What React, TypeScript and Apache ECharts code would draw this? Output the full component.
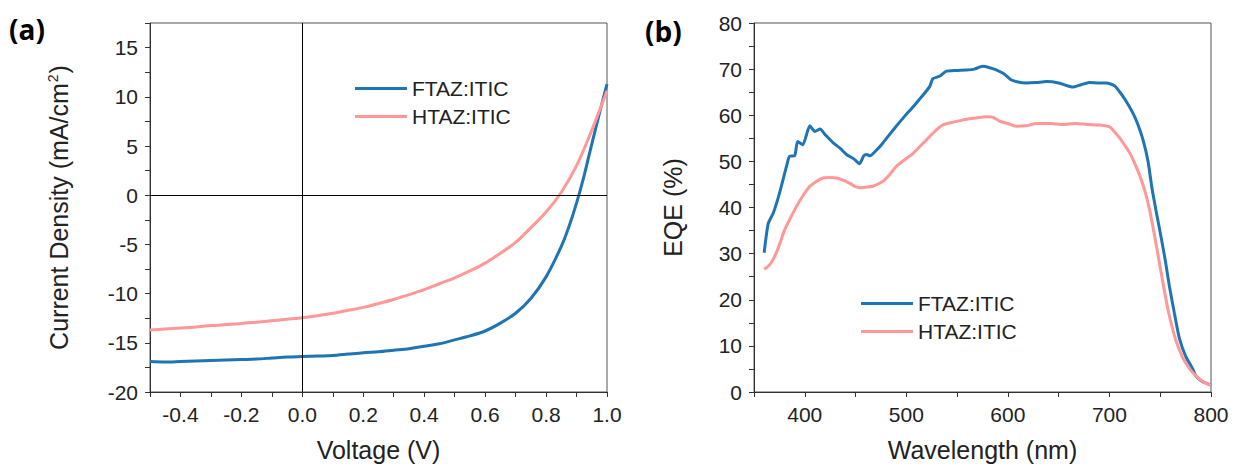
import React, { useEffect, useRef } from "react";
import * as echarts from "echarts";

// Panel (a): J-V curves
const jvVoltage = [-0.5, -0.45, -0.4, -0.35, -0.3, -0.25, -0.2, -0.15, -0.1, -0.05, 0, 0.05, 0.1, 0.15, 0.2, 0.25, 0.3, 0.35, 0.4, 0.45, 0.5, 0.55, 0.6, 0.65, 0.7, 0.75, 0.8, 0.85, 0.875, 0.9, 0.925, 0.95, 0.975, 1.0];
const jvFTAZ = [-16.9, -16.95, -16.9, -16.85, -16.8, -16.75, -16.7, -16.65, -16.55, -16.45, -16.4, -16.35, -16.3, -16.15, -16.0, -15.9, -15.75, -15.6, -15.35, -15.1, -14.7, -14.3, -13.8, -13.0, -12.0, -10.5, -8.3, -5.2, -3.2, -0.8, 2.0, 5.2, 8.3, 11.3];
const jvVoltageH = [-0.5, -0.45, -0.4, -0.35, -0.3, -0.25, -0.2, -0.15, -0.1, -0.05, 0, 0.05, 0.1, 0.15, 0.2, 0.25, 0.3, 0.35, 0.4, 0.45, 0.5, 0.55, 0.6, 0.65, 0.7, 0.75, 0.8, 0.85, 0.9, 0.95, 1.0];
const jvHTAZ = [-13.7, -13.6, -13.5, -13.4, -13.25, -13.15, -13.05, -12.9, -12.75, -12.6, -12.45, -12.25, -12.0, -11.7, -11.4, -11.0, -10.6, -10.1, -9.6, -9.0, -8.4, -7.7, -6.9, -5.9, -4.8, -3.3, -1.7, 0.3, 3.0, 6.6, 10.6];

// Panel (b): EQE spectra
const eqeWlFTAZ = [360, 364, 369, 375, 382, 385, 390, 393, 398, 405, 410, 415, 420, 428, 435, 441, 448, 454, 458, 461, 464, 470, 477, 483, 490, 498, 507, 515, 523, 526, 533, 539, 549, 559, 567, 575, 582, 589, 596, 603, 610, 618, 628, 638, 650, 664, 672, 680, 690, 697, 705, 710, 716, 723, 728, 733, 738, 742, 747, 751, 755, 759, 764, 769, 775, 782, 785, 790, 795, 800];
const eqeFTAZ = [30.2, 36.5, 38.8, 43, 48.9, 51.1, 51.2, 54.3, 53.6, 57.7, 56.5, 57.0, 55.8, 54.0, 52.8, 51.5, 50.6, 49.5, 51.2, 51.5, 51.2, 52.3, 54.0, 55.7, 57.6, 59.7, 61.9, 64.0, 66.2, 67.9, 68.5, 69.5, 69.7, 69.8, 70.0, 70.6, 70.3, 69.8, 69.0, 67.7, 67.2, 67.0, 67.1, 67.3, 67.0, 66.1, 66.6, 67.1, 67.0, 67.0, 66.4, 65.1, 63.2, 60.5, 58.0, 54.7, 50.0, 44.0, 38.0, 33.4, 28.5, 23.0, 17.0, 11.5, 7.8, 5.0, 3.5, 2.5, 1.9, 1.5];
const eqeWlHTAZ = [360, 365, 369, 374, 379, 382, 387, 392, 398, 405, 411, 418, 425, 431, 438, 444, 450, 454, 460, 467, 477, 483, 490, 498, 507, 515, 523, 529, 536, 546, 556, 568, 579, 585, 592, 600, 608, 618, 628, 641, 654, 667, 678, 690, 700, 710, 715, 720, 725, 730, 735, 740, 746, 752, 758, 765, 772, 779, 785, 790, 795, 800];
const eqeHTAZ = [26.6, 27.5, 28.8, 31.3, 34.5, 36.0, 38.2, 40.3, 42.5, 44.6, 45.6, 46.4, 46.5, 46.4, 45.9, 45.3, 44.5, 44.3, 44.4, 44.6, 45.7, 47.0, 48.9, 50.3, 51.8, 53.6, 55.4, 56.7, 57.9, 58.5, 59.0, 59.4, 59.7, 59.6, 58.7, 58.2, 57.6, 57.7, 58.2, 58.2, 58.0, 58.2, 58.0, 57.9, 57.5, 55.1, 53.5, 51.8, 49.5, 46.8, 43.5, 39.0, 32.0, 24.5, 17.5, 11.5, 7.5, 5.0, 3.5, 2.6, 1.9, 1.5];

const seriesNames = ["FTAZ:ITIC", "HTAZ:ITIC"];
const BLUE = "#1f74b3";
const PINK = "#ff9896";
const FONT = "Liberation Sans";

export default function App() {
  const ref = useRef<HTMLDivElement>(null);
  useEffect(() => {
    if (!ref.current) return;
    const chart = echarts.init(ref.current, null, { renderer: "svg" });
    const tickStyle = { fontSize: 21, fontFamily: FONT, color: "#222" };
    const nameStyle = { fontSize: 25, fontFamily: FONT, color: "#222" };
    const axisCommon = {
      type: "value" as const,
      splitLine: { show: false },
      axisLine: { show: true, onZero: false, lineStyle: { color: "#333", width: 1 } },
      axisTick: { show: true, inside: false, length: 5, lineStyle: { color: "#333" } },
      nameLocation: "middle" as const,
      nameTextStyle: nameStyle,
    };
    const legendCommon = {
      orient: "vertical" as const,
      icon: "rect",
      itemWidth: 52,
      itemHeight: 3,
      itemGap: 7,
      selectedMode: false,
      textStyle: { fontSize: 21, fontFamily: FONT, color: "#222" },
      data: seriesNames,
    };
    chart.setOption({
      animation: false,
      grid: [
        { left: 150, top: 23, width: 457, height: 370, show: true, borderColor: "#555", borderWidth: 1 },
        { left: 754, top: 23, width: 457, height: 370, show: true, borderColor: "#555", borderWidth: 1 },
      ],
      xAxis: [
        {
          ...axisCommon,
          gridIndex: 0,
          min: -0.5,
          max: 1.0,
          interval: 0.1,
          name: "Voltage (V)",
          nameGap: 45,
          axisLabel: {
            ...tickStyle,
            margin: 12,
            formatter: (v: number) => {
              const k = Math.round(v * 10);
              return k % 2 === 0 ? (k / 10).toFixed(1) : "";
            },
          },
        },
        {
          ...axisCommon,
          gridIndex: 1,
          min: 350,
          max: 800,
          interval: 50,
          name: "Wavelength (nm)",
          nameGap: 45,
          axisLabel: {
            ...tickStyle,
            margin: 12,
            formatter: (v: number) => (Math.round(v) % 100 === 0 ? String(v) : ""),
          },
        },
      ],
      yAxis: [
        {
          ...axisCommon,
          gridIndex: 0,
          min: -20,
          max: 17.5,
          interval: 2.5,
          name: "Current Density (mA/cm{sup|2})",
          nameGap: 78,
          nameTextStyle: {
            ...nameStyle,
            rich: {
              sup: { fontSize: 14, fontFamily: FONT, color: "#222", verticalAlign: "top", padding: [0, 1, 12, 1] },
            },
          },
          axisLabel: {
            ...tickStyle,
            margin: 12,
            formatter: (v: number) => (v % 5 === 0 ? String(v) : ""),
          },
        },
        {
          ...axisCommon,
          gridIndex: 1,
          min: 0,
          max: 80,
          interval: 5,
          name: "EQE (%)",
          nameGap: 69,
          axisLabel: {
            ...tickStyle,
            margin: 12,
            formatter: (v: number) => (v % 10 === 0 ? String(v) : ""),
          },
        },
      ],
      legend: [
        { ...legendCommon, left: 350, top: 73 },
        { ...legendCommon, left: 856, top: 288 },
      ],
      graphic: [
        { type: "text", left: 9, top: 15, style: { text: "(a)", fontSize: 28, fontWeight: "bold", fontFamily: "Open Sans", fill: "#000" } },
        { type: "text", left: 645, top: 17, style: { text: "(b)", fontSize: 28, fontWeight: "bold", fontFamily: "Open Sans", fill: "#000" } },
      ],
      series: [
        {
          name: seriesNames[0],
          type: "line",
          xAxisIndex: 0,
          yAxisIndex: 0,
          showSymbol: false,
          smooth: 0.3,
          lineStyle: { color: BLUE, width: 3 },
          itemStyle: { color: BLUE },
          data: jvVoltage.map((v, i) => [v, jvFTAZ[i]]),
          markLine: {
            silent: true,
            symbol: ["none", "none"],
            label: { show: false },
            lineStyle: { color: "#000", width: 1, type: "solid" },
            data: [{ xAxis: 0 }, { yAxis: 0 }],
          },
        },
        {
          name: seriesNames[1],
          type: "line",
          xAxisIndex: 0,
          yAxisIndex: 0,
          showSymbol: false,
          smooth: 0.3,
          lineStyle: { color: PINK, width: 3 },
          itemStyle: { color: PINK },
          data: jvVoltageH.map((v, i) => [v, jvHTAZ[i]]),
        },
        {
          name: seriesNames[0],
          type: "line",
          xAxisIndex: 1,
          yAxisIndex: 1,
          showSymbol: false,
          smooth: 0.2,
          lineStyle: { color: BLUE, width: 3 },
          itemStyle: { color: BLUE },
          data: eqeWlFTAZ.map((w, i) => [w, eqeFTAZ[i]]),
        },
        {
          name: seriesNames[1],
          type: "line",
          xAxisIndex: 1,
          yAxisIndex: 1,
          showSymbol: false,
          smooth: 0.2,
          lineStyle: { color: PINK, width: 3 },
          itemStyle: { color: PINK },
          data: eqeWlHTAZ.map((w, i) => [w, eqeHTAZ[i]]),
        },
      ],
    });
    return () => chart.dispose();
  }, []);
  return (
    <div
      ref={ref}
      style={{ position: "fixed", left: 0, top: 0, width: 1233, height: 467, background: "#fff" }}
    />
  );
}
